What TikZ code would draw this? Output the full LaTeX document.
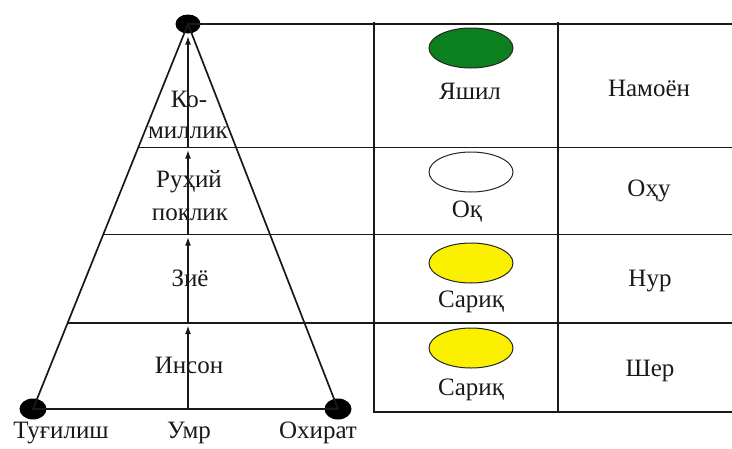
\documentclass[tikz,border=0pt]{standalone}
\usepackage{fontspec}
\setmainfont{Liberation Serif}
\usetikzlibrary{arrows.meta, shapes.geometric, positioning, calc}
\definecolor{lampgreen}{RGB}{12,128,30}
\definecolor{lampyellow}{RGB}{250,240,0}
\tikzset{
  dot/.style = {ellipse, fill=black, minimum width=27pt, minimum height=21pt, inner sep=0pt},
  lamp/.style = {ellipse, draw=black!85, line width=1pt, minimum width=84pt, minimum height=40pt, inner sep=0pt},
  word/.style = {font=\fontsize{25}{27}\selectfont, inner sep=0pt, text=black!90},
  grid/.style = {line width=1.7pt, draw=black!90},
  up/.style = {-{Latex[length=9pt, width=6pt]}, line width=1.7pt, draw=black!90, shorten >=2pt}
}

\begin{document}
\begin{tikzpicture}[x=1pt, y=-1pt]
  \useasboundingbox (0,0) rectangle (732,448);

  % Pyramid
  \node[dot, minimum width=25pt, minimum height=19pt] (top) at (188,24) {};
  \node[dot] (birth) at (33,409) {};
  \node[dot] (death) at (338,409) {};
  \draw[grid] (birth.center) -- (top.center) -- (death.center) -- cycle;

  % Levels
  \coordinate (rim) at (732,22);
  \coordinate (lev1) at ($(birth.center)!0.223!(top.center)$);
  \coordinate (lev2) at ($(birth.center)!0.453!(top.center)$);
  \coordinate (lev3) at ($(birth.center)!0.679!(top.center)$);
  \draw[grid] (lev1) -- (lev1 -| rim);
  \draw[grid] (lev2) -- (lev2 -| rim);
  \draw[grid] (lev3) -- (lev3 -| rim);
  \draw[grid] (top.center) -- (top.center -| rim);

  % Life axis
  \coordinate (axis) at (top |- birth);
  \draw[up] (axis) -- (top |- lev1);
  \draw[up] (top |- lev1) -- (top |- lev2);
  \draw[up] (top |- lev2) -- (top |- lev3);
  \draw[up] (top |- lev3) -- (top.south);

  % Level names
  \node[word] (insan) at (189,365) {Инсон};
  \node[word] (ziyo) at (190,278) {Зиё};
  \node[word] (ruhiy) at (189,182) {Руҳий};
  \node[word] (poklik) at (190,215) {поклик};
  \node[word] (ko) at (189,99) {Ко-};
  \node[word] (millik) at (188,133) {миллик};

  % Bottom names
  \node[word] (birthname) at (61,433) {Туғилиш};
  \node[word] (lifename) at (189,433) {Умр};
  \node[word] (endname) at (318,433) {Охират};

  % Table
  \draw[grid] (374,22) -- (374,412) -- (732,412);
  \draw[grid] (558,22) -- (558,412);

  % Colours
  \node[lamp, fill=lampgreen] (lamp1) at (471,48) {};
  \node[word] (col1) at (470,91) {Яшил};
  \node[lamp, fill=white] (lamp2) at (471,172) {};
  \node[word] (col2) at (467,212) {Оқ};
  \node[lamp, fill=lampyellow] (lamp3) at (471,263) {};
  \node[word] (col3) at (471,302) {Сариқ};
  \node[lamp, fill=lampyellow] (lamp4) at (471,348) {};
  \node[word] (col4) at (471,390) {Сариқ};

  % Symbols
  \node[word] (sym1) at (649,88) {Намоён};
  \node[word] (sym2) at (649,191) {Оҳу};
  \node[word] (sym3) at (650,281) {Нур};
  \node[word] (sym4) at (650,371) {Шер};

\end{tikzpicture}
\end{document}
